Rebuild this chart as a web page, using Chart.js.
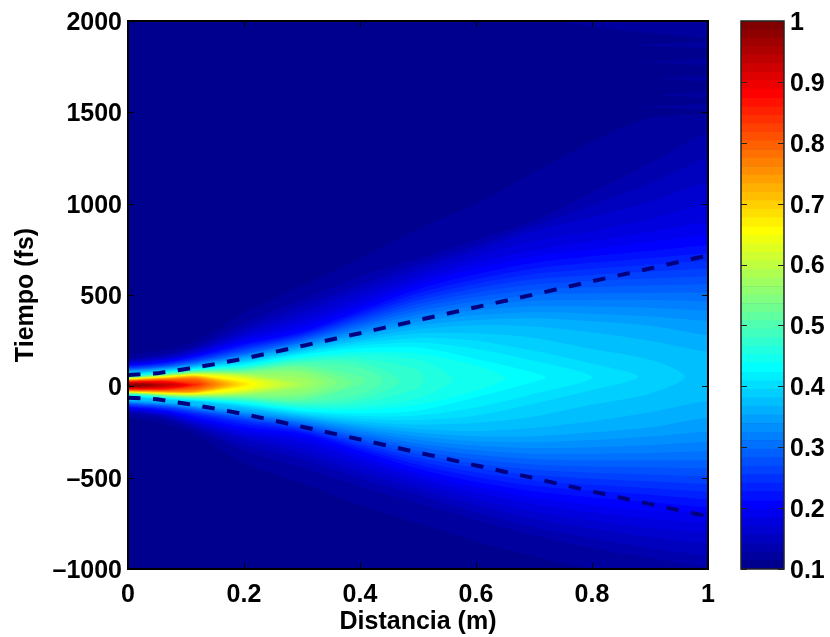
<!DOCTYPE html>
<html>
<head>
<meta charset="utf-8">
<title>Pulso</title>
<script src="https://cdn.jsdelivr.net/npm/chart.js@4/dist/chart.umd.min.js"></script>
<style>
  html, body { margin: 0; background: #fff; overflow: hidden; }
  canvas { position: absolute; top: 0; }
  #mapa { left: 0; }
  #barra { left: 730px; }
</style>
</head>
<body>
<canvas id="mapa" width="830" height="637"></canvas>
<canvas id="barra" width="100" height="637"></canvas>
<script>
const ticksDistancia = [0, 0.2, 0.4, 0.6, 0.8, 1];
const ticksTiempo = [-1000, -500, 0, 500, 1000, 1500, 2000];
const ticksBarra = [0.1, 0.2, 0.3, 0.4, 0.5, 0.6, 0.7, 0.8, 0.9, 1];

// 64 franjas de la barra de color
const bandasBarra = [0.1, 0.114, 0.128, 0.142, 0.156, 0.17, 0.184, 0.198, 0.212, 0.227, 0.241, 0.255, 0.269, 0.283, 0.297, 0.311,
  0.325, 0.339, 0.353, 0.367, 0.381, 0.395, 0.409, 0.423, 0.438, 0.452, 0.466, 0.48, 0.494, 0.508, 0.522, 0.536,
  0.55, 0.564, 0.578, 0.592, 0.606, 0.62, 0.634, 0.648, 0.662, 0.677, 0.691, 0.705, 0.719, 0.733, 0.747, 0.761,
  0.775, 0.789, 0.803, 0.817, 0.831, 0.845, 0.859, 0.873, 0.888, 0.902, 0.916, 0.93, 0.944, 0.958, 0.972, 0.986, 1];

// columnas de las curvas de nivel
const distancias = [0, 0.03, 0.07, 0.12, 0.2, 0.3, 0.4, 0.5, 0.6, 0.7, 0.8, 0.9, 1];

// distancia donde se cierra cada curva (null = llega hasta el borde), una por cada franja desde 0.114
const cierres = [null, null, null, null, null, null, null, null, null, null, null, null, null, null, null, null, null, null, null,
  0.96, 0.88, 0.8, 0.72, 0.65, 0.56, 0.51, 0.47, 0.44, 0.41, 0.385, 0.36, 0.34, 0.32, 0.3, 0.282, 0.265, 0.25, 0.235, 0.222, 0.21,
  0.2, 0.19, 0.182, 0.175, 0.167, 0.16, 0.153, 0.145, 0.14, 0.135, 0.13, 0.125, 0.118, 0.11, 0.105, 0.1, 0.09, 0.08, 0.075, 0.06, 0.05, 0.04, 0.025];

// tiempo (fs) de cada curva, lado superior
const arriba = [
  [170, 185, 205, 250, 400, 550, 700, 860, 1000, 1170, 1340, 1470, 1490],
  [150, 160, 180, 225, 345, 475, 600, 700, 800, 905, 1060, 1220, 1390],
  [142, 152, 170, 212, 318, 440, 555, 670, 770, 880, 990, 1110, 1250],
  [135, 145, 160, 200, 295, 405, 525, 640, 745, 850, 925, 1010, 1120],
  [130, 139, 154, 190, 278, 375, 490, 610, 710, 795, 850, 915, 1000],
  [125, 133, 148, 182, 262, 345, 460, 580, 675, 745, 795, 845, 900],
  [120, 127, 141, 175, 247, 320, 435, 555, 645, 710, 750, 790, 830],
  [115, 122, 135, 168, 232, 299, 414, 531, 613, 675, 712, 741, 772],
  [111, 117, 130, 160, 222, 289, 399, 509, 586, 644, 676, 701, 728],
  [107, 113, 125, 153, 212, 280, 385, 489, 562, 615, 643, 665, 687],
  [103, 109, 121, 147, 203, 271, 371, 470, 537, 586, 610, 628, 645],
  [100, 105, 117, 142, 195, 263, 358, 451, 513, 557, 577, 590, 603],
  [96, 101, 113, 137, 186, 254, 345, 432, 489, 528, 543, 552, 559],
  [93, 98, 110, 132, 177, 246, 331, 412, 465, 499, 509, 513, 514],
  [90, 95, 106, 127, 174, 238, 318, 393, 440, 469, 473, 473, 466],
  [87, 92, 103, 123, 168, 230, 305, 374, 415, 438, 437, 430, 414],
  [83, 88, 100, 119, 161, 222, 292, 354, 390, 406, 398, 383, 357],
  [80, 85, 96, 115, 155, 214, 279, 334, 363, 373, 356, 332, 280],
  [76, 81, 93, 111, 147, 206, 265, 313, 335, 327, 295, 250, 190],
  [73, 78, 90, 107, 140, 198, 251, 290, 290, 265, 205, 145],
  [69, 75, 87, 104, 133, 190, 237, 265, 250, 195, 125],
  [66, 72, 84, 100, 126, 181, 223, 240, 205, 140],
  [63, 69, 81, 97, 120, 173, 207, 212, 150, 75],
  [60, 67, 79, 95, 115, 164, 190, 180, 115],
  [58, 64, 77, 92, 109, 155, 173, 145],
  [56, 62, 75, 90, 103, 145, 153, 91],
  [54, 60, 73, 87, 98, 136, 131],
  [53, 59, 71, 85, 93, 126, 103],
  [51, 57, 69, 82, 88, 115, 56],
  [50, 56, 67, 80, 83, 103],
  [49, 54, 65, 78, 78, 89],
  [48, 53, 64, 76, 73, 73],
  [47, 52, 62, 74, 69, 49],
  [46, 51, 61, 72, 65],
  [45, 50, 59, 70, 60],
  [44, 49, 58, 68, 55],
  [43, 48, 56, 66, 50],
  [42, 47, 55, 64, 44],
  [41, 46, 53, 62, 36],
  [40, 45, 52, 60, 26],
  [39, 44, 50, 58],
  [38, 43, 49, 56],
  [37, 42, 47, 54],
  [36, 40, 46, 52],
  [35, 39, 45, 50],
  [34, 38, 43, 47],
  [33, 37, 41, 44],
  [32, 35, 39, 40],
  [31, 34, 37, 35],
  [30, 33, 35, 30],
  [29, 32, 33, 24],
  [28, 30, 31, 15],
  [26, 29, 29],
  [25, 27, 27],
  [24, 26, 24],
  [22, 24, 22],
  [21, 22, 18],
  [19, 20, 15],
  [17, 18, 9],
  [16, 16],
  [13, 13],
  [11, 10],
  [7]
];

// tiempo (fs) de cada curva, lado inferior
const abajo = [
  [-170, -185, -210, -270, -420, -530, -650, -750, -850, -930, -1000, -1040, -1080],
  [-150, -160, -185, -240, -350, -445, -545, -640, -730, -815, -885, -940, -985],
  [-142, -152, -175, -228, -320, -400, -505, -595, -690, -770, -830, -885, -925],
  [-135, -145, -165, -215, -290, -365, -470, -560, -650, -725, -780, -825, -860],
  [-130, -139, -157, -203, -272, -335, -435, -530, -615, -685, -735, -775, -800],
  [-125, -133, -150, -192, -255, -305, -405, -500, -580, -645, -690, -725, -745],
  [-120, -127, -143, -182, -238, -280, -378, -475, -550, -610, -650, -680, -690],
  [-115, -122, -137, -172, -222, -259, -354, -451, -523, -575, -608, -633, -662],
  [-111, -117, -131, -160, -208, -249, -339, -429, -496, -544, -572, -593, -618],
  [-107, -113, -125, -150, -195, -240, -325, -409, -472, -515, -539, -557, -577],
  [-103, -109, -120, -144, -186, -231, -311, -390, -447, -486, -506, -520, -535],
  [-100, -105, -115, -138, -177, -223, -298, -371, -423, -457, -473, -482, -493],
  [-96, -101, -111, -133, -170, -214, -285, -352, -399, -428, -439, -444, -449],
  [-93, -98, -107, -128, -163, -206, -271, -332, -375, -399, -405, -405, -404],
  [-90, -95, -104, -123, -156, -198, -258, -313, -350, -369, -369, -365, -356],
  [-87, -92, -100, -118, -150, -190, -245, -294, -325, -338, -333, -322, -304],
  [-83, -88, -97, -114, -143, -182, -232, -274, -300, -306, -294, -275, -247],
  [-80, -85, -93, -110, -135, -174, -219, -254, -273, -273, -252, -224, -170],
  [-76, -81, -89, -105, -125, -166, -205, -233, -245, -227, -191, -142, -80],
  [-63, -66, -76, -85, -116, -158, -191, -210, -200, -165, -100, -40],
  [-59, -63, -73, -82, -109, -150, -177, -185, -160, -95, -20],
  [-56, -60, -70, -78, -102, -141, -163, -160, -115, -40],
  [-53, -57, -67, -75, -96, -133, -147, -132, -60, 25],
  [-50, -55, -65, -73, -91, -124, -130, -100, -25],
  [-48, -52, -63, -70, -85, -115, -113, -65],
  [-46, -50, -61, -68, -79, -105, -93, -11],
  [-44, -48, -59, -65, -74, -96, -71],
  [-43, -47, -57, -63, -69, -86, -43],
  [-41, -45, -55, -60, -64, -75, 4],
  [-40, -44, -53, -58, -59, -63],
  [-39, -42, -51, -56, -54, -49],
  [-38, -41, -50, -54, -49, -33],
  [-37, -40, -48, -52, -45, -9],
  [-36, -39, -47, -50, -41],
  [-35, -38, -45, -48, -36],
  [-34, -37, -44, -46, -31],
  [-33, -36, -42, -44, -26],
  [-32, -35, -41, -42, -20],
  [-31, -34, -39, -40, -12],
  [-30, -33, -38, -38, -2],
  [-29, -32, -36, -36],
  [-28, -31, -35, -34],
  [-27, -30, -33, -32],
  [-26, -28, -32, -30],
  [-25, -27, -31, -28],
  [-24, -26, -29, -25],
  [-23, -25, -27, -22],
  [-22, -23, -25, -18],
  [-21, -22, -23, -13],
  [-20, -21, -21, -8],
  [-19, -20, -19, -2],
  [-18, -18, -17, 7],
  [-16, -17, -15],
  [-15, -15, -13],
  [-14, -14, -10],
  [-12, -12, -8],
  [-11, -10, -4],
  [-9, -8, -1],
  [-7, -6, 5],
  [-6, -4],
  [-3, -1],
  [-1, 2],
  [3]
];

// estelas oscuras arriba a la derecha: punta y tiempo en el borde
const estelaPunta = [0.866, 0.88, 0.91, 0.91, 0.88];
const estelaTiempo = [1868, 1775, 1687, 1595, 1530];
const cunaDistancia = [0.73, 1, 1, 0.85];
const cunaTiempo = [2000, 2000, 1905, 1950];

// lineas discontinuas
const anchoDistancia = [0, 0.05, 0.1, 0.15, 0.2, 0.3, 0.4, 0.5, 0.6, 0.7, 0.8, 0.9, 1];
const anchoSuperior = [62, 71, 95, 122, 152, 221, 291, 362, 433, 503, 575, 645, 717];
const anchoInferior = [-62, -71, -95, -122, -152, -221, -291, -362, -433, -503, -575, -645, -712];

const FUENTE = { family: "'Liberation Sans', Arial, sans-serif", size: 25, weight: "bold" };

function jet(f) {
  const c = (v) => Math.round(255 * Math.max(0, Math.min(1, v)));
  const r = Math.min(4 * f - 1.5, -4 * f + 4.5);
  const g = Math.min(4 * f - 0.5, -4 * f + 3.5);
  const b = Math.min(4 * f + 0.5, -4 * f + 2.5);
  return `rgb(${c(r)}, ${c(g)}, ${c(b)})`;
}

function contorno(i) {
  const sup = arriba[i];
  const inf = abajo[i];
  const ultimo = sup.length - 1;
  const pts = [{ x: -0.05, y: sup[0] }];
  sup.forEach((t, j) => pts.push({ x: distancias[j], y: t }));
  if (cierres[i] !== null) {
    pts.push({ x: cierres[i], y: (sup[ultimo] + inf[ultimo]) / 2 });
  } else {
    // se sale del area para que la curva no se doble en el borde
    pts.push({ x: 1.05, y: sup[ultimo] }, { x: 1.05, y: inf[ultimo] });
  }
  for (let j = ultimo; j >= 0; j--) {
    pts.push({ x: distancias[j], y: inf[j] });
  }
  pts.push({ x: -0.05, y: inf[0] });
  return pts;
}

// fondo, marco y marcas hacia dentro, como en Matlab
const marco = {
  id: "marco",
  beforeDatasetsDraw(chart) {
    const { ctx, chartArea: a } = chart;
    ctx.save();
    ctx.fillStyle = jet(1 / 64);
    ctx.fillRect(a.left, a.top, a.width, a.height);
    ctx.restore();
  },
  afterDraw(chart, args, opts) {
    const { ctx, chartArea: a, scales } = chart;
    const largo = 6;
    ctx.save();
    ctx.strokeStyle = opts.color;
    ctx.lineWidth = 1;
    ctx.beginPath();
    if (opts.marcasX) {
      scales.x.ticks.forEach((t) => {
        const p = Math.round(scales.x.getPixelForValue(t.value)) + 0.5;
        ctx.moveTo(p, a.top);
        ctx.lineTo(p, a.top + largo);
        ctx.moveTo(p, a.bottom);
        ctx.lineTo(p, a.bottom - largo);
      });
    }
    scales.y.ticks.forEach((t) => {
      const p = Math.round(scales.y.getPixelForValue(t.value)) + 0.5;
      ctx.moveTo(a.left, p);
      ctx.lineTo(a.left + largo, p);
      ctx.moveTo(a.right, p);
      ctx.lineTo(a.right - largo, p);
    });
    ctx.stroke();
    ctx.lineWidth = opts.grosor;
    ctx.strokeRect(a.left, a.top, a.width, a.height);
    ctx.restore();
  },
};

function capaBase(puntos, color, orden, tension) {
  return {
    data: puntos,
    showLine: true,
    fill: "shape",
    tension,
    capBezierPoints: false,
    backgroundColor: color,
    borderWidth: 0,
    pointRadius: 0,
    order: orden,
  };
}

const capas = arriba.map((fila, i) => capaBase(contorno(i), jet((i + 2) / 64), 100 - i, 0.3));

const estelas = estelaPunta.map((x, i) =>
  capaBase(
    [{ x, y: estelaTiempo[i] }, { x: 1.02, y: estelaTiempo[i] + 22 }, { x: 1.02, y: estelaTiempo[i] - 22 }],
    jet(2 / 64),
    200,
    0
  )
);
const cuna = capaBase(cunaDistancia.map((x, i) => ({ x, y: cunaTiempo[i] })), jet(2 / 64), 200, 0);

const discontinuas = [anchoSuperior, anchoInferior].map((serie) => ({
  data: serie.map((t, j) => ({ x: anchoDistancia[j], y: t })),
  showLine: true,
  fill: false,
  borderColor: "rgb(0, 0, 128)",
  borderWidth: 4,
  borderDash: [12.5, 12.5],
  pointRadius: 0,
  order: 0,
}));

new Chart(document.getElementById("mapa"), {
  type: "scatter",
  data: { datasets: [cuna, ...estelas, ...capas, ...discontinuas] },
  plugins: [marco],
  options: {
    responsive: false,
    animation: false,
    events: [],
    layout: { padding: { top: 21, right: 122, bottom: 0, left: 0 } },
    plugins: {
      legend: { display: false },
      tooltip: { enabled: false },
      marco: { color: "#000", grosor: 2, marcasX: true },
    },
    scales: {
      x: {
        type: "linear",
        min: 0,
        max: 1,
        afterBuildTicks: (s) => { s.ticks = ticksDistancia.map((value) => ({ value })); },
        afterFit: (s) => { s.height = 68; },
        grid: { display: false, drawTicks: false },
        border: { display: false },
        ticks: { color: "#000", font: FUENTE, padding: 11, maxRotation: 0, autoSkip: false, callback: (v) => String(v) },
        title: { display: true, text: "Distancia (m)", color: "#000", font: FUENTE, padding: { top: 0, bottom: 0 } },
      },
      y: {
        type: "linear",
        min: -1000,
        max: 2000,
        afterBuildTicks: (s) => { s.ticks = ticksTiempo.map((value) => ({ value })); },
        afterFit: (s) => { s.width = 128; },
        grid: { display: false, drawTicks: false },
        border: { display: false },
        ticks: {
          color: "#000",
          font: FUENTE,
          padding: 6,
          labelOffset: 2,
          autoSkip: false,
          callback: (v) => (v < 0 ? "\u2013" + Math.abs(v) : String(v)),
        },
        title: { display: true, text: "Tiempo (fs)", color: "#000", font: FUENTE, padding: { top: 11, bottom: 0 } },
      },
    },
  },
});

const franjas = bandasBarra.slice(0, -1).map((v, i) => ({
  data: [[v, bandasBarra[i + 1]]],
  backgroundColor: jet((i + 1) / 64),
  barPercentage: 1,
  categoryPercentage: 1,
  borderWidth: 0,
}));

new Chart(document.getElementById("barra"), {
  type: "bar",
  data: { labels: [""], datasets: franjas },
  plugins: [marco],
  options: {
    responsive: false,
    animation: false,
    events: [],
    layout: { padding: { top: 21, right: 0, bottom: 68, left: 11 } },
    plugins: {
      legend: { display: false },
      tooltip: { enabled: false },
      marco: { color: "#222", grosor: 1.5, marcasX: false },
    },
    scales: {
      x: { display: false, stacked: true },
      y: {
        position: "right",
        min: 0.1,
        max: 1,
        afterBuildTicks: (s) => { s.ticks = ticksBarra.map((value) => ({ value })); },
        afterFit: (s) => { s.width = 46; },
        grid: { display: false, drawTicks: false },
        border: { display: false },
        ticks: { color: "#000", font: FUENTE, padding: 6, labelOffset: 2, autoSkip: false, callback: (v) => String(v) },
      },
    },
  },
});
</script>
</body>
</html>
